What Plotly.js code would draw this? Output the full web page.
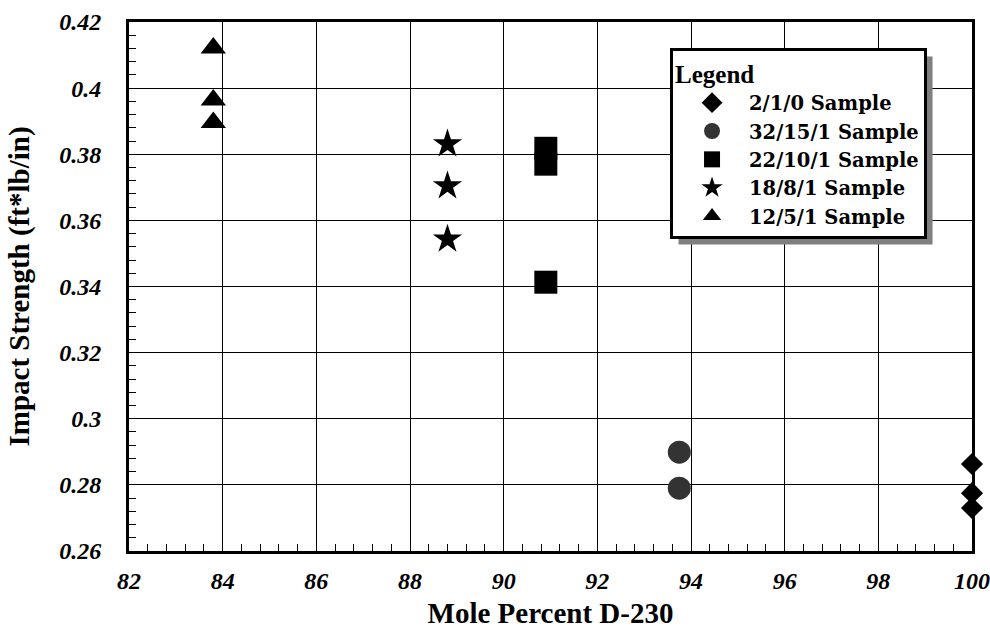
<!DOCTYPE html>
<html>
<head>
<meta charset="utf-8">
<script src="https://cdn.plot.ly/plotly-3.0.1.min.js"></script>
<style>html,body{margin:0;padding:0;background:#fff;}#chart{width:990px;height:632px;}</style>
</head>
<body>
<div id="chart"></div>
<script>
// Data
const seriesNames = ["2/1/0 Sample", "32/15/1 Sample", "22/10/1 Sample", "18/8/1 Sample", "12/5/1 Sample"];
const x_2_1_0 = [100, 100, 100];
const y_2_1_0 = [0.2863, 0.2775, 0.2730];
const x_32_15_1 = [93.75, 93.75];
const y_32_15_1 = [0.2899, 0.2790];
const x_22_10_1 = [90.9, 90.9, 90.9];
const y_22_10_1 = [0.3818, 0.3770, 0.3413];
const x_18_8_1 = [88.8, 88.8, 88.8];
const y_18_8_1 = [0.3831, 0.3704, 0.3543];
const x_12_5_1 = [83.8, 83.8, 83.8];
const y_12_5_1 = [0.4121, 0.3964, 0.3896];

const xTitle = "Mole Percent D-230";
const yTitle = "Impact Strength (ft*lb/in)";
const legendTitle = "Legend";

const serif = "Liberation Serif, Times New Roman, serif";
const wideSerif = "DejaVu Serif, serif";

function tr(name, x, y, symbol, size, color) {
  return {
    type: "scatter", mode: "markers", name: name, x: x, y: y, cliponaxis: false,
    marker: {symbol: symbol, size: size, color: color, line: {width: 0}}
  };
}

const data = [
  tr(seriesNames[0], x_2_1_0, y_2_1_0, "diamond", 17, "#000"),
  tr(seriesNames[1], x_32_15_1, y_32_15_1, "circle", 23, "#333"),
  tr(seriesNames[2], x_22_10_1, y_22_10_1, "square", 23, "#000"),
  tr(seriesNames[3], x_18_8_1, y_18_8_1, "star", 22, "#000"),
  tr(seriesNames[4], x_12_5_1, y_12_5_1, "triangle-up", 22, "#000")
];

const tickFont = {family: serif, size: 24, color: "#000", weight: "bold", style: "italic"};
const titleFont = {family: serif, size: 29, color: "#000", weight: "bold"};

const layout = {
  width: 990, height: 632,
  margin: {l: 129, r: 18, t: 22, b: 81},
  paper_bgcolor: "#fff", plot_bgcolor: "#fff",
  showlegend: true,
  xaxis: {
    range: [82, 100], dtick: 2, tick0: 82,
    showline: true, linewidth: 3, linecolor: "#000", mirror: true,
    showgrid: true, gridcolor: "#000", gridwidth: 1,
    zeroline: false,
    ticks: "inside", ticklen: 7, tickcolor: "#000", tickwidth: 1,
    minor: {dtick: 0.4, ticks: "inside", ticklen: 7, tickcolor: "#000", tickwidth: 1, showgrid: false},
    tickfont: tickFont, ticklabelstandoff: 6,
    title: {text: xTitle, font: titleFont, standoff: 10}
  },
  yaxis: {
    range: [0.26, 0.42], dtick: 0.02, tick0: 0.26,
    showline: true, linewidth: 3, linecolor: "#000", mirror: true,
    showgrid: true, gridcolor: "#000", gridwidth: 1,
    zeroline: false,
    ticks: "inside", ticklen: 7, tickcolor: "#000", tickwidth: 1,
    minor: {dtick: 0.004, ticks: "inside", ticklen: 7, tickcolor: "#000", tickwidth: 1, showgrid: false},
    tickfont: tickFont, ticklabelstandoff: 20,
    title: {text: yTitle, font: titleFont, standoff: 22}
  },
  legend: {
    x: 0.6418, y: 0.9509, xanchor: "left", yanchor: "top",
    bgcolor: "#fff", bordercolor: "#000", borderwidth: 3,
    font: {family: wideSerif, size: 19.5, color: "#000", weight: "bold"},
    title: {text: legendTitle, side: "top", font: {family: serif, size: 25, color: "#000", weight: "bold"}},
    itemwidth: 64, indentation: 2, tracegroupgap: 0
  },
  shapes: []
};

Plotly.newPlot("chart", data, layout, {displayModeBar: false, staticPlot: true}).then(function (gd) {
  // drop shadow behind the legend box, offset 7px right and down
  const bg = gd.querySelector(".legend .bg");
  if (!bg) return;
  const r = bg.getBoundingClientRect();
  const c = gd.getBoundingClientRect();
  const s = gd._fullLayout._size;
  const off = 7;
  const px = function (x) { return (x - c.left - s.l) / s.w; };
  const py = function (y) { return 1 - (y - c.top - s.t) / s.h; };
  return Plotly.relayout(gd, {shapes: [{
    type: "rect", xref: "paper", yref: "paper", layer: "above",
    x0: px(r.left + off), x1: px(r.right + off),
    y0: py(r.bottom + off), y1: py(r.top + off),
    fillcolor: "#7f7f7f", line: {width: 0}
  }]});
});
</script>
</body>
</html>
